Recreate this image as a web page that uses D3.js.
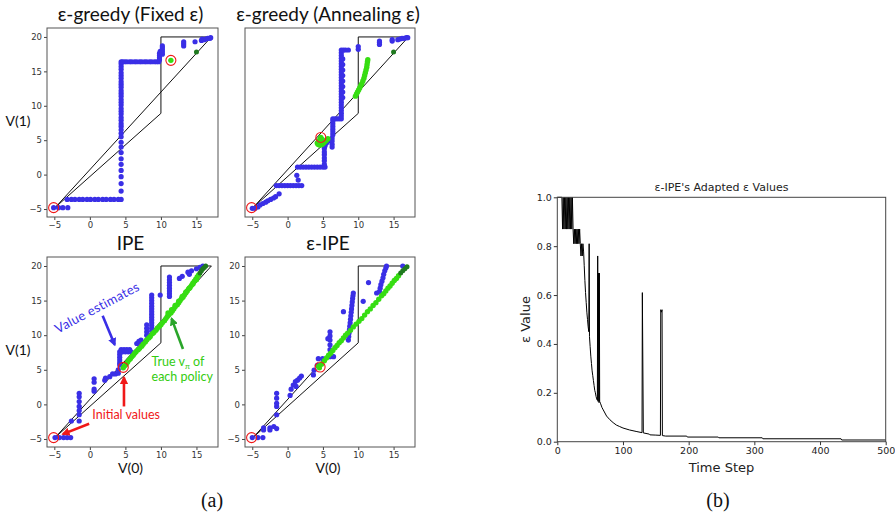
<!DOCTYPE html>
<html><head><meta charset="utf-8">
<script src="https://cdn.jsdelivr.net/npm/d3@7/dist/d3.min.js"></script>
<style>body{margin:0;background:#fff}svg{display:block}</style>
</head><body>
<svg id="c" width="895" height="516"></svg>
<script>
// ---------- DATA ----------
const panelTitles = ["ε-greedy (Fixed ε)", "ε-greedy (Annealing ε)", "IPE", "ε-IPE"];
const xTicks = [-5, 0, 5, 10, 15];
const yTicks = [-5, 0, 5, 10, 15, 20];
// value polytope outline (V(0), V(1))
const polytope = [[-4.8, -4.7], [10, 8.9], [10, 20], [17.1, 20], [-4.8, -4.7]];

const fixedBlue = [
  [-5.1,-4.8],[-4.4,-4.8],[-3.8,-4.8],[-3.1,-4.8],
  [-3.2,-3.6],[-2.6,-3.6],[-2.1,-3.6],[-1.5,-3.6],[-1.0,-3.6],[-0.4,-3.6],[0.1,-3.6],[0.7,-3.6],[1.2,-3.6],[1.8,-3.6],[2.3,-3.6],[2.9,-3.6],[3.4,-3.6],[4.0,-3.6],[4.4,-3.6],
  [4.4,-2.4],[4.4,-1.3],[4.4,-0.3],[4.4,0.6],[4.4,1.5],[4.4,2.3],[4.4,3.2],[4.4,4.0],[4.4,4.7],[4.4,5.5],[4.4,6.0],[4.4,6.5],[4.4,7.0],[4.4,7.4],[4.4,7.9],[4.4,8.3],[4.4,8.8],[4.4,9.2],[4.4,9.6],[4.4,10.1],[4.4,10.5],[4.4,10.9],[4.4,11.4],[4.4,11.8],[4.4,12.2],[4.4,12.7],[4.4,13.1],[4.4,13.5],[4.4,14.0],[4.4,14.4],[4.4,14.8],[4.4,15.3],[4.4,15.7],[4.4,16.1],[4.4,16.4],
  [4.6,16.4],[4.9,16.4],[5.2,16.4],[5.6,16.4],[5.9,16.4],[6.3,16.4],[6.6,16.4],[7.0,16.4],[7.3,16.4],[7.7,16.4],[8.0,16.4],[8.4,16.4],[8.7,16.4],[9.1,16.4],[9.4,16.4],[9.7,16.4],
  [9.8,16.7],[9.8,17.0],[9.8,17.3],[9.8,17.6],[9.9,17.9],[10.2,17.5],[10.2,17.8],[10.2,18.1],[10.2,18.4],[10.2,18.7],
  [13.2,18.7],[13.2,19.0],[13.2,19.3],
  [14.8,19.3],[15.7,19.5],[15.8,19.7],[16.1,19.6],[16.3,19.7],[16.6,19.8],[16.9,19.8],[17.0,19.9]
];
const fixedGreen = [[11.4, 16.6]];
const fixedDark = [[15.0, 17.8]];
const fixedRed = [[-5.1, -4.8], [11.4, 16.6]];

const annealBlue = [
  [-5.0,-4.9],[-4.6,-4.9],[-4.2,-4.7],[-3.9,-4.4],[-3.5,-4.2],[-3.1,-4.0],[-2.8,-3.8],[-2.4,-3.6],[-2.0,-3.4],[-1.7,-3.2],[-1.2,-2.8],
  [-1.6,-1.6],[-1.2,-1.6],[-0.8,-1.6],[-0.4,-1.6],[0.0,-1.6],[0.4,-1.6],[0.8,-1.6],[1.2,-1.6],[1.6,-1.6],[2.0,-1.6],
  [1.5,-0.8],[1.3,-0.1],
  [1.4,1.1],[1.8,1.1],[2.2,1.1],[2.6,1.1],[3.0,1.1],[3.4,1.1],[3.8,1.1],[4.2,1.1],[4.6,1.1],[5.0,1.1],[5.3,1.1],
  [5.2,1.5],[5.2,2.0],[5.2,2.4],[5.2,2.9],[5.2,3.3],[5.2,3.8],[5.3,4.2],[5.5,4.6],[5.8,4.9],[6.0,5.1],
  [6.3,4.0],[6.3,4.4],[6.3,4.9],[6.3,5.3],[6.4,5.8],[6.4,6.2],[6.4,6.6],[6.4,7.0],[6.4,7.4],[6.4,7.8],[6.4,8.1],
  [6.7,8.1],[7.0,8.1],[7.3,8.1],[7.6,8.1],
  [7.6,8.5],[7.6,8.9],[7.6,9.3],[7.6,9.7],[7.6,10.1],[7.6,10.5],[7.6,10.9],[7.6,11.3],[7.6,11.7],[7.6,12.1],[7.6,12.5],[7.6,12.9],[7.6,13.3],[7.6,13.7],[7.6,14.1],[7.6,14.5],[7.6,14.9],[7.6,15.3],[7.6,15.7],[7.6,16.1],[7.6,16.5],[7.6,16.9],[7.6,17.3],[7.6,17.7],[7.6,18.1],
  [7.8,11.2],[7.8,12.0],[7.8,12.8],[7.8,13.6],[7.8,14.4],[7.8,15.2],[7.8,16.0],[7.8,16.8],
  [7.9,18.1],[8.2,18.1],[8.6,18.1],[10.0,18.2],[10.0,18.6],
  [13.0,18.9],[13.0,19.2],[13.0,19.4],[14.8,19.4],[14.8,19.6],
  [15.6,19.6],[15.9,19.7],[16.2,19.8],[16.5,19.8],[16.8,19.9],[17.0,19.9]
];
const annealGreen = [
  [9.6,11.4],[9.75,11.7],[9.9,12.0],[10.05,12.3],[10.2,12.6],[10.35,12.9],[10.5,13.2],[10.65,13.6],[10.8,14.0],[10.9,14.4],[11.0,14.8],[11.1,15.2],[11.2,15.6],[11.25,16.0],[11.3,16.4],[11.35,16.7],
  [4.2,4.6],[4.3,4.4],[4.5,4.3],[4.7,4.3],[4.9,4.4],[5.1,4.6],[5.3,4.8],[5.5,5.0],[5.7,5.2],[4.4,4.9],[4.6,5.2],[4.7,5.4],[4.9,5.1]
];
const annealDark = [[15.0, 17.8]];
const annealRed = [[-5.1, -4.8], [4.7, 5.4]];

const ipeBlue = [
  [-4.9,-4.8],[-4.3,-4.8],[-3.7,-4.8],[-3.2,-4.8],[-2.7,-4.8],
  [-2.6,-2.4],[-1.5,-2.4],
  [-1.5,-1.5],[-1.5,-0.9],[-1.5,-0.3],[-1.5,0.4],[-1.5,1.1],[-1.5,1.6],
  [0.6,1.9],[0.6,2.2],[0.6,3.2],[0.6,3.7],
  [2.1,3.5],[2.2,3.8],[2.8,4.0],[3.2,4.4],[3.6,4.4],[4.0,4.5],[4.0,5.0],[4.2,5.7],
  [4.2,6.0],[4.2,6.4],[4.2,6.8],[4.2,7.2],[4.2,7.6],[4.6,7.6],[5.0,7.6],[5.4,7.6],[5.8,7.6],[4.4,7.9],[4.8,7.9],[5.2,7.9],[5.6,7.9],
  [6.6,8.8],[6.9,9.1],[7.2,9.3],
  [8.0,10.0],[8.0,10.5],[8.0,11.0],[8.0,11.5],
  [8.7,10.6],[8.7,11.0],[8.7,11.4],[8.7,11.8],[8.7,12.2],[8.7,12.6],[8.7,13.0],[8.7,13.4],[8.7,13.8],[8.7,14.2],[8.7,14.6],[8.7,15.0],[8.7,15.4],[8.7,15.8],
  [9.9,15.8],
  [11.2,15.6],[11.2,16.0],[11.2,16.4],[11.2,16.8],[11.2,17.2],[11.2,17.6],[11.2,18.0],[11.2,18.4],
  [12.6,18.2],[13.0,18.5],[13.8,19.1],[14.0,18.8],[14.3,19.3],[15.0,19.6],[15.5,19.8],[15.9,20.0]
];
const ipeGreen = [
  [4.7,5.3],[4.9,5.6],[5.1,5.8],[5.3,6.1],[5.5,6.4],[5.7,6.6],[5.9,6.9],[6.1,7.1],[6.3,7.4],[6.5,7.6],[6.8,7.9],[7.0,8.1],[7.3,8.4],[7.5,8.7],[7.8,9.0],[8.0,9.3],[8.3,9.6],[8.5,9.8],[8.8,10.2],[9.0,10.4],[9.3,10.7],[9.5,11.0],[9.8,11.3],[10.0,11.5],[10.2,11.8],[10.5,12.1],[10.7,12.4],[10.9,12.7],[11.1,12.9],[11.4,13.2],[11.6,13.5],[11.8,13.8],[12.0,14.1],[12.3,14.4],[12.5,14.7],[12.7,15.0],[12.9,15.3],[13.1,15.5],[13.3,15.8],[13.5,16.1],[13.7,16.4],[13.9,16.7],[14.1,16.9],[14.3,17.2],[14.5,17.5],[14.7,17.8],[14.9,18.1],[15.1,18.4],[15.3,18.7],
  [11.0,13.2],[11.5,13.7],[12.0,14.3],[12.5,14.9],[13.0,15.6],[13.5,16.2],[14.0,16.8],[14.5,17.4],[15.0,18.0]
];
const ipeDark = [[15.5,19.0],[15.7,19.3],[15.9,19.6],[16.1,19.8],[16.3,20.0]];
const ipeRed = [[-5.1, -4.8], [4.7, 5.35]];

const eipeBlue = [
  [-5.0,-4.8],[-4.2,-4.8],[-3.5,-4.8],
  [-3.4,-3.7],[-3.4,-3.4],[-2.5,-3.7],[-2.5,-3.4],[-1.95,-3.2],[-1.55,-3.5],
  [-1.55,-1.5],[-1.55,-0.3],[-1.55,0.15],[-1.55,0.9],[-1.55,1.6],
  [0.35,1.3],[0.5,2.2],[0.8,2.8],[1.1,3.3],[1.2,2.6],[1.4,3.5],[1.7,3.8],[1.95,4.1],
  [3.65,4.25],[3.75,4.95],[4.2,5.65],[4.35,6.6],[4.95,6.6],
  [5.7,9.5],[6.0,6.9],[6.0,7.9],[6.0,8.6],[6.0,9.3],[6.0,9.9],[6.0,10.5],[6.5,6.9],
  [7.9,13.4],
  [8.6,9.3],[8.65,9.8],[8.7,10.3],[8.75,10.8],[8.8,11.3],[8.85,11.8],[8.9,12.3],[8.95,12.8],[9.0,13.3],[9.05,13.8],[9.1,14.3],[9.15,14.8],[9.2,15.3],[9.25,15.7],[9.3,16.1],
  [10.7,14.9],[11.45,17.6],[12.6,16.1],
  [13.0,16.3],[13.1,16.8],[13.2,17.3],[13.35,17.8],[13.5,18.3],[13.6,18.8],[13.75,19.3],[13.9,19.7],[14.0,20.0],
  [16.3,20.0]
];
const eipeGreen = [
  [4.4,5.5],[4.5,5.3],[4.8,5.8],[5.2,6.3],[5.5,6.7],[5.8,7.1],[6.1,7.4],[6.4,7.8],[6.7,8.2],[7.0,8.5],[7.3,8.9],[7.6,9.2],[7.9,9.6],[8.2,10.0],[8.5,10.3],[8.9,10.7],[9.3,11.2],[9.7,11.6],[10.1,12.0],[10.5,12.4],[10.9,12.9],[11.3,13.4],[11.7,13.8],[12.1,14.3],[12.5,14.7],[12.9,15.2],[13.3,15.7],[13.6,16.0],[13.9,16.4],[14.2,16.8],[14.5,17.1],[14.8,17.5],[15.1,17.9],[15.4,18.2],[15.7,18.6]
];
const eipeDark = [[16.0,19.0],[16.3,19.3],[16.6,19.6],[16.9,19.9]];
const eipeRed = [[-5.1, -4.8], [4.6, 5.4]];

// epsilon-IPE adapted epsilon values: [time step, epsilon]
const epsilonSeries = [
  [0,1],[7,1],[8,0.87],[9,1],[10,0.87],[11,1],[12,0.87],[13,1],[14,0.87],[15,1],[16,0.87],[17,1],[18,0.87],[19,1],[20,0.87],[21,1],[22,0.87],[23,1],[24,0.87],
  [25,0.81],[26,0.87],[27,0.81],[28,0.87],[29,0.81],[30,0.87],[31,0.81],[32,0.87],[33,0.81],[34,0.87],[35,0.81],
  [36,0.76],[37,0.81],[38,0.76],[39,0.81],[40,0.78],[41,0.72],[42,0.66],[43,0.61],[44,0.57],[45,0.53],[46,0.50],[47,0.47],[48,0.45],[48.5,0.81],[49,0.43],
  [50,0.39],[51,0.35],[52,0.32],[53,0.29],[54,0.27],[55,0.25],[56,0.23],[57,0.21],[58,0.20],[59,0.185],[60,0.175],[61,0.17],[61.5,0.76],[62,0.165],[63,0.69],[63.5,0.16],[64,0.69],[64.5,0.165],
  [66,0.155],[68,0.14],[70,0.13],[75,0.105],[80,0.09],[85,0.078],[90,0.068],[95,0.062],[100,0.056],[110,0.048],[120,0.042],[129,0.037],[129.5,0.61],[131,0.036],[140,0.031],[141,0.028],[150,0.027],[157,0.026],[157.5,0.54],[158.5,0.53],[159.5,0.54],[160,0.025],[165,0.023],
  [197,0.023],[198,0.019],[245,0.019],[246,0.016],[312,0.016],[313,0.012],[432,0.012],[433,0.007],[500,0.007]
];
const epsXTicks = [0, 100, 200, 300, 400, 500];
const epsYTicks = [0, 0.2, 0.4, 0.6, 0.8, 1.0];

// ---------- DRAW ----------
const svg = d3.select("#c");
const BLUE = "#3a2fe6", GREEN = "#36dd12", DARK = "#1f7a1f", RED = "#f01818";
const tickFont = "DejaVu Sans, sans-serif";
const titleFont = "Lato, 'Open Sans', sans-serif";

const panels = [
  {title: panelTitles[0], blue: fixedBlue, green: fixedGreen, dark: fixedDark, red: fixedRed, box: [47, 28, 218, 217], ylab: true, xlab: false, clipY: false},
  {title: panelTitles[1], blue: annealBlue, green: annealGreen, dark: annealDark, red: annealRed, box: [245, 28, 415, 217], ylab: false, xlab: false, clipY: true},
  {title: panelTitles[2], blue: ipeBlue, green: ipeGreen, dark: ipeDark, red: ipeRed, box: [47, 257, 218, 447], ylab: true, xlab: true, clipY: false},
  {title: panelTitles[3], blue: eipeBlue, green: eipeGreen, dark: eipeDark, red: eipeRed, box: [245, 257, 415, 447], ylab: false, xlab: true, clipY: false}
];

svg.append("defs").append("clipPath").attr("id", "clipA")
  .append("rect").attr("x", 234).attr("y", 0).attr("width", 200).attr("height", 240);

const scales = [];
panels.forEach((p, i) => {
  const [l, t, r, b] = p.box;
  const x = d3.scaleLinear().domain([-6.03, 18.03]).range([l, r]);
  const y = d3.scaleLinear().domain([-6.16, 21.3]).range([b, t]);
  scales.push({x, y});
  const g = svg.append("g");

  // title
  svg.append("text").attr("x", (l + r) / 2 - 2).attr("y", t - 7)
    .attr("text-anchor", "middle").attr("font-family", titleFont)
    .attr("font-size", 19).attr("fill", "#111").text(p.title);

  // axes
  const ax = g.append("g").attr("transform", `translate(0,${b})`)
    .call(d3.axisBottom(x).tickValues(xTicks).tickSize(3).tickPadding(2));
  const ay = g.append("g").attr("transform", `translate(${l},0)`)
    .call(d3.axisLeft(y).tickValues(yTicks).tickSize(3).tickPadding(2));
  [ax, ay].forEach(a => {
    a.select(".domain").remove();
    a.selectAll("line").attr("stroke", "#444");
    a.selectAll("text").attr("font-family", tickFont).attr("font-size", 8.5).attr("fill", "#333");
  });
  if (p.clipY) ay.attr("clip-path", "url(#clipA)");

  // frame
  g.append("rect").attr("x", l).attr("y", t).attr("width", r - l).attr("height", b - t)
    .attr("fill", "none").attr("stroke", "#555").attr("stroke-width", 1);

  // polytope
  g.append("path").datum(polytope)
    .attr("d", d3.line().x(d => x(d[0])).y(d => y(d[1])))
    .attr("fill", "none").attr("stroke", "#111").attr("stroke-width", 1);

  const dots = (data, color, rad) => g.append("g").selectAll("circle").data(data).join("circle")
    .attr("cx", d => x(d[0])).attr("cy", d => y(d[1])).attr("r", rad).attr("fill", color);
  dots(p.blue, BLUE, 2.6);
  dots(p.green, GREEN, 2.7);
  dots(p.dark, DARK, 2.5);
  g.append("g").selectAll("circle").data(p.red).join("circle")
    .attr("cx", d => x(d[0])).attr("cy", d => y(d[1])).attr("r", 5)
    .attr("fill", "none").attr("stroke", RED).attr("stroke-width", 1.1);

  if (p.ylab) svg.append("text").attr("x", 18).attr("y", (t + b) / 2 + 3)
    .attr("text-anchor", "middle").attr("font-family", titleFont).attr("font-size", 14)
    .attr("fill", "#111").text("V(1)");
  if (p.xlab) svg.append("text").attr("x", (l + r) / 2 - 2).attr("y", b + 26)
    .attr("text-anchor", "middle").attr("font-family", titleFont).attr("font-size", 14)
    .attr("fill", "#111").text("V(0)");
});

// annotations on IPE panel
(function () {
  const {x, y} = scales[2];
  const defs = svg.select("defs");
  [["ab", BLUE], ["ag", "#2aa52a"], ["ar", RED]].forEach(([id, c]) => {
    defs.append("marker").attr("id", id).attr("viewBox", "0 0 10 10").attr("refX", 8).attr("refY", 5)
      .attr("markerWidth", 3.2).attr("markerHeight", 3.2).attr("orient", "auto")
      .append("path").attr("d", "M0,0 L10,5 L0,10 z").attr("fill", c);
  });
  const arrow = (a, bpt, c, id) => svg.append("line")
    .attr("x1", x(a[0])).attr("y1", y(a[1])).attr("x2", x(bpt[0])).attr("y2", y(bpt[1]))
    .attr("stroke", c).attr("stroke-width", 2.6).attr("marker-end", `url(#${id})`);
  arrow([1.8, 12.8], [3.5, 8.6], BLUE, "ab");
  arrow([13.1, 8.0], [11.5, 12.4], "#2aa52a", "ag");
  arrow([4.8, -0.3], [4.8, 3.9], RED, "ar");
  arrow([-0.1, -2.8], [-3.8, -4.3], RED, "ar");

  svg.append("text").attr("transform", `translate(${x(1.3)},${y(13.4)}) rotate(-28)`)
    .attr("text-anchor", "middle").attr("font-family", titleFont).attr("font-size", 13)
    .attr("letter-spacing", 0.3).attr("fill", BLUE).text("Value estimates");
  const tv = svg.append("text").attr("x", x(12.4)).attr("y", y(5.6)).attr("text-anchor", "middle")
    .attr("font-family", titleFont).attr("font-size", 12.5).attr("fill", "#33cc11");
  tv.append("tspan").text("True v");
  tv.append("tspan").attr("font-size", 8).attr("dy", 3).text("π");
  tv.append("tspan").attr("dy", -3).text(" of");
  svg.append("text").attr("x", x(13.0)).attr("y", y(3.4)).attr("text-anchor", "middle")
    .attr("font-family", titleFont).attr("font-size", 12.5).attr("fill", "#33cc11").text("each policy");
  svg.append("text").attr("x", x(5.1)).attr("y", y(-2.15)).attr("text-anchor", "middle")
    .attr("font-family", titleFont).attr("font-size", 12.5).attr("fill", RED).text("Initial values");
})();

// panel labels
svg.append("text").attr("x", 212).attr("y", 507).attr("text-anchor", "middle")
  .attr("font-family", "Liberation Serif, serif").attr("font-size", 20).attr("fill", "#111").text("(a)");
svg.append("text").attr("x", 718).attr("y", 507).attr("text-anchor", "middle")
  .attr("font-family", "Liberation Serif, serif").attr("font-size", 20).attr("fill", "#111").text("(b)");

// ---------- panel (b) ----------
(function () {
  const L = 557.3, R = 885.7, T = 197.3, B = 441.7;
  const x = d3.scaleLinear().domain([0, 500]).range([L, R]);
  const y = d3.scaleLinear().domain([0, 1]).range([B, T]);
  const g = svg.append("g");
  g.append("path").datum(epsilonSeries)
    .attr("d", d3.line().x(d => x(d[0])).y(d => y(d[1])))
    .attr("fill", "none").attr("stroke", "#000").attr("stroke-width", 1);
  const ax = g.append("g").attr("transform", `translate(0,${B})`)
    .call(d3.axisBottom(x).tickValues(epsXTicks).tickFormat(d3.format("d")).tickSize(3.5).tickPadding(2));
  const ay = g.append("g").attr("transform", `translate(${L},0)`)
    .call(d3.axisLeft(y).tickValues(epsYTicks).tickFormat(d3.format(".1f")).tickSize(3.5).tickPadding(2));
  [ax, ay].forEach(a => {
    a.select(".domain").remove();
    a.selectAll("line").attr("stroke", "#333");
    a.selectAll("text").attr("font-family", tickFont).attr("font-size", 9.5).attr("fill", "#222");
  });
  g.append("rect").attr("x", L).attr("y", T).attr("width", R - L).attr("height", B - T)
    .attr("fill", "none").attr("stroke", "#444").attr("stroke-width", 1);
  svg.append("text").attr("x", (L + R) / 2).attr("y", T - 6).attr("text-anchor", "middle")
    .attr("font-family", tickFont).attr("font-size", 11).attr("fill", "#222").text("ε-IPE's Adapted ε Values");
  svg.append("text").attr("x", (L + R) / 2).attr("y", B + 30).attr("text-anchor", "middle")
    .attr("font-family", tickFont).attr("font-size", 13).attr("fill", "#222").text("Time Step");
  svg.append("text").attr("transform", `translate(${L - 27},${(T + B) / 2}) rotate(-90)`)
    .attr("text-anchor", "middle").attr("font-family", tickFont).attr("font-size", 13)
    .attr("fill", "#222").text("ε Value");
})();
</script>
</body></html>
